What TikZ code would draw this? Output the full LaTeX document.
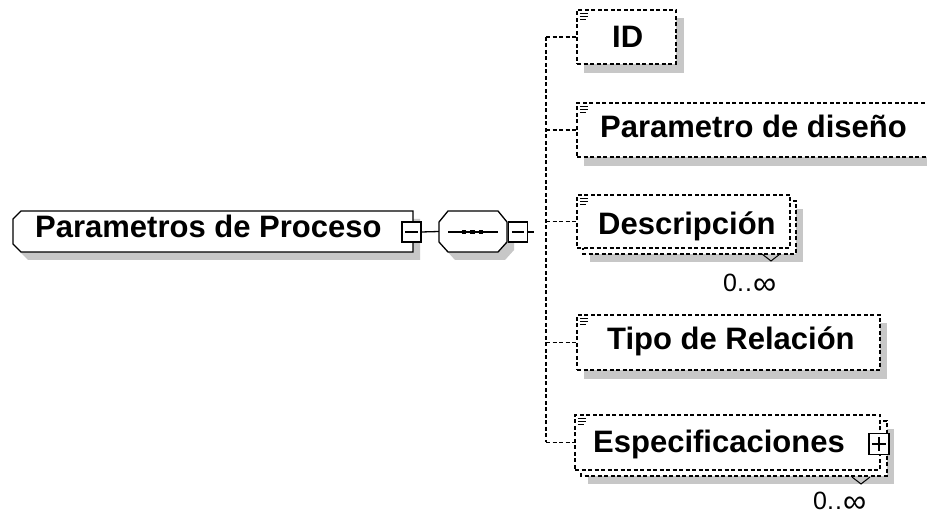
\documentclass[tikz,border=0pt]{standalone}
\usepackage{fontspec}
\setmainfont{Liberation Sans}
\begin{document}
\begin{tikzpicture}[x=1pt,y=-1pt,
  shadowc/.style={fill=black!22, draw=none},
  solidline/.style={line width=1.3pt, black},
  dline/.style={line width=1.35pt, dash pattern=on 4pt off 2.5pt},
  childbox/.style={draw, dline, fill=white, inner sep=0pt},
  lbl/.style={inner sep=0pt, anchor=base west, font=\bfseries\fontsize{31}{31}\selectfont},
  occ/.style={inner sep=0pt, anchor=base west, font=\fontsize{25}{25}\selectfont},
  pmbox/.style={draw, line width=1.3pt, fill=white, minimum width=19pt, minimum height=20pt, inner sep=0pt},
  tab/.style={line width=1pt},
  icon/.style={line width=0.9pt},
]
\useasboundingbox (0,0) rectangle (927,518);
\fill[white] (0,0) rectangle (927,518);

% ---------- main element ----------
\fill[shadowc] (28,219) -- (420,219) -- (420,260) -- (28,260) -- (20,252) -- (20,227) -- cycle;
\draw[solidline, fill=white] (21,211) -- (413,211) -- (413,252) -- (21,252) -- (13,244) -- (13,219) -- cycle;
\node[lbl] (main) at (35,238) {Parametros de Proceso};
\node[pmbox] (m1) at (411.5,232) {};
\draw[line width=1.1pt] ([xshift=4pt]m1.west) -- ([xshift=-4pt]m1.east);

% ---------- sequence compositor ----------
\fill[shadowc] (455,219) -- (505,219) -- (514,230) -- (514,250) -- (505,260) -- (455,260) -- (446,250) -- (446,230) -- cycle;
\draw[solidline, fill=white] (448,211) -- (498,211) -- (507,222) -- (507,242) -- (498,252) -- (448,252) -- (439,242) -- (439,222) -- cycle;
\node[minimum width=68pt, minimum height=41pt, inner sep=0pt] (seq) at (473,231.5) {};
\draw[solidline] (448,232) -- (498,232);
\fill (461.5,229.7) rectangle (466.3,234.5);
\fill (469.8,229.7) rectangle (474.6,234.5);
\fill (478.5,229.7) rectangle (483.3,234.5);
\draw[solidline] (m1.east) -- (seq.west);
\node[pmbox] (m2) at (518,232) {};
\draw[line width=1.1pt] ([xshift=4pt]m2.west) -- ([xshift=-4pt]m2.east);
\coordinate (m2end) at (534,232);
\draw[solidline] (m2.east) -- (m2end);

% ---------- children ----------
% ID
\fill[shadowc] (584,18) rectangle (684,73);
\node[childbox, minimum width=99pt, minimum height=54pt] (id) at (626.5,37) {};
\node[lbl] (idt) at (612,48) {ID};
% Parametro de diseno
\fill[shadowc] (584,111) rectangle (942,166);
\node[childbox, minimum width=358pt, minimum height=54pt] (par) at (756,130) {};
\node[lbl] (part) at (600,138) {Parametro de diseño};
% Descripcion (0..inf)
\fill[shadowc] (590,209) rectangle (803,262);
\draw[dline, fill=white] (583,201) rectangle (796,254);
\node[childbox, minimum width=213pt, minimum height=53pt] (desc) at (683.5,221.5) {};
\node[lbl] (desct) at (598,235) {Descripción};
\draw[tab] (762,254) -- (771,261) -- (780,254);
\node[occ] (descocc) at (723,292) {0.\kern1pt.\kern1pt\raisebox{-2.2pt}{\scalebox{1.3}{∞}}};
% Tipo de Relacion
\fill[shadowc] (584,323) rectangle (887,379);
\node[childbox, minimum width=303pt, minimum height=55pt] (tipo) at (728.5,342.5) {};
\node[lbl] (tipot) at (607,350) {Tipo de Relación};
% Especificaciones (0..inf)
\fill[shadowc] (588,429) rectangle (894,484);
\draw[dline, fill=white] (581,421) rectangle (887,476);
\node[childbox, minimum width=305pt, minimum height=55pt] (esp) at (727.5,442.5) {};
\node[lbl] (espt) at (593,452.7) {Especificaciones};
\node[pmbox, minimum width=20pt, minimum height=21pt] (p1) at (879,444) {};
\draw[line width=1.1pt] ([xshift=4pt]p1.west) -- ([xshift=-4pt]p1.east);
\draw[line width=1.1pt] ([yshift=-4pt]p1.north) -- ([yshift=4pt]p1.south);
\draw[tab] (852,477) -- (861,484) -- (870,477);
\node[occ] (espocc) at (813,510) {0.\kern1pt.\kern1pt\raisebox{-2.2pt}{\scalebox{1.3}{∞}}};

% icons
\foreach \n in {id,par,desc,tipo,esp}{
  \draw[icon] ([shift={(3.5,4)}]\n.north west) -- ++(8,0);
  \draw[icon] ([shift={(3.5,7.3)}]\n.north west) -- ++(8,0);
  \draw[icon] ([shift={(3.5,10.6)}]\n.north west) -- ++(6,0);
}

% ---------- connectors ----------
\coordinate (vx) at (546,232);
\draw[dline] (id.west -| vx) -- (esp.west -| vx);
\foreach \n in {id,par,desc,tipo,esp}{
  \draw[dline] (\n.west -| vx) -- (\n.west);
}
\end{tikzpicture}
\end{document}
